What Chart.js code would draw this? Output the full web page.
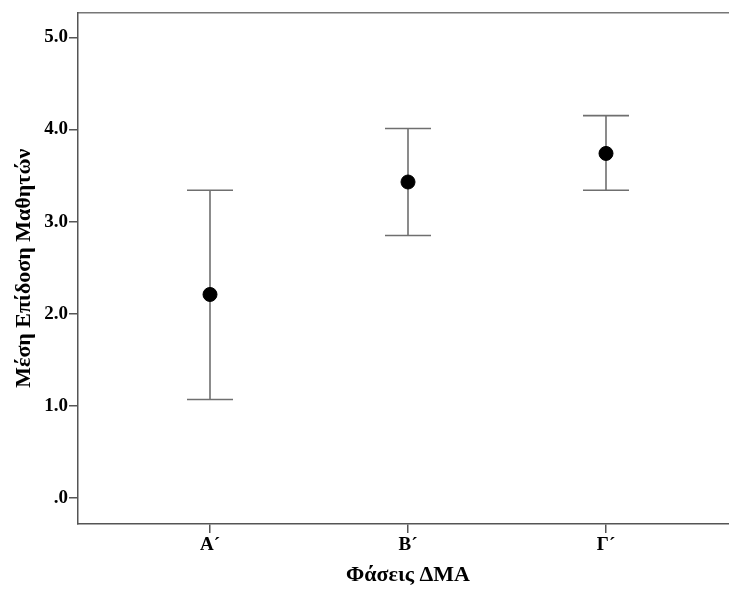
<!DOCTYPE html>
<html>
<head>
<meta charset="utf-8" />
<script src="https://cdn.jsdelivr.net/npm/chart.js"></script>
<style>
  html, body { margin: 0; padding: 0; background: #fff; overflow: hidden; }
  #wrap { width: 738px; height: 589px; }
</style>
</head>
<body>
<div id="wrap"><canvas id="chart" width="738" height="589"></canvas></div>
<script>
  // values
  const categories = ['Α´', 'Β´', 'Γ´'];
  const means = [2.21, 3.43, 3.74];
  const lower = [1.07, 2.85, 3.34];
  const upper = [3.34, 4.01, 4.15];
  const yTicks = [0, 1, 2, 3, 4, 5];
  const yTickLabels = ['.0', '1.0', '2.0', '3.0', '4.0', '5.0'];

  const serif = "'Liberation Serif', 'Times New Roman', serif";
  const barColor = '#6f6f6f';

  // one dataset per error bar: vertical line + caps (pointStyle 'line')
  const errorSets = categories.map((c, i) => ({
    type: 'scatter',
    data: [{ x: i, y: lower[i] }, { x: i, y: upper[i] }],
    showLine: true,
    borderColor: barColor,
    borderWidth: 1.6,
    pointStyle: 'line',
    pointRadius: 23,
    pointBorderColor: barColor,
    pointBorderWidth: 1.6,
    pointHoverRadius: 23
  }));

  const meanSet = {
    type: 'scatter',
    data: means.map((m, i) => ({ x: i, y: m })),
    pointRadius: 7,
    pointHoverRadius: 7,
    pointBackgroundColor: '#000',
    pointBorderColor: '#000',
    pointBorderWidth: 1
  };

  new Chart(document.getElementById('chart'), {
    type: 'scatter',
    data: { datasets: [meanSet, ...errorSets] },
    options: {
      responsive: false,
      animation: false,
      devicePixelRatio: 1,
      layout: { padding: 0, autoPadding: false },
      plugins: { legend: { display: false }, tooltip: { enabled: false } },
      scales: {
        x: {
          type: 'linear',
          min: -2 / 3,
          max: 2 + 2 / 3,
          afterBuildTicks: (s) => { s.ticks = categories.map((c, i) => ({ value: i })); },
          afterFit: (s) => { s.height = 65; },
          ticks: {
            callback: (v) => categories[v],
            color: '#000',
            font: { family: serif, size: 19, weight: 'bold' },
            padding: 1,
            maxRotation: 0
          },
          grid: { drawOnChartArea: false, drawTicks: true, tickLength: 9, color: '#555', lineWidth: 1.5 },
          border: { display: true, color: '#555', width: 1.5 },
          title: {
            display: true,
            text: 'Φάσεις ΔΜΑ',
            color: '#000',
            font: { family: serif, size: 22, weight: 'bold' },
            padding: { top: 0, bottom: 0 }
          }
        },
        xTop: {
          type: 'linear',
          position: 'top',
          min: -2 / 3,
          max: 2 + 2 / 3,
          afterFit: (s) => { s.height = 9; },
          ticks: { display: false },
          grid: { drawOnChartArea: false, drawTicks: false },
          border: { display: true, color: '#777', width: 1.5 }
        },
        y: {
          min: -0.28,
          max: 5.27,
          afterBuildTicks: (s) => { s.ticks = yTicks.map((v) => ({ value: v })); },
          afterFit: (s) => { s.width = 78; },
          ticks: {
            callback: (v) => yTickLabels[yTicks.indexOf(v)],
            color: '#000',
            font: { family: serif, size: 19, weight: 'bold' },
            padding: 1
          },
          grid: { drawOnChartArea: false, drawTicks: true, tickLength: 9, color: '#555', lineWidth: 1.5 },
          border: { display: true, color: '#555', width: 1.5 },
          title: {
            display: true,
            text: 'Μέση Επίδοση Μαθητών',
            color: '#000',
            font: { family: serif, size: 22, weight: 'bold' },
            padding: { top: 11, bottom: 0 }
          }
        }
      }
    }
  });
</script>
</body>
</html>
